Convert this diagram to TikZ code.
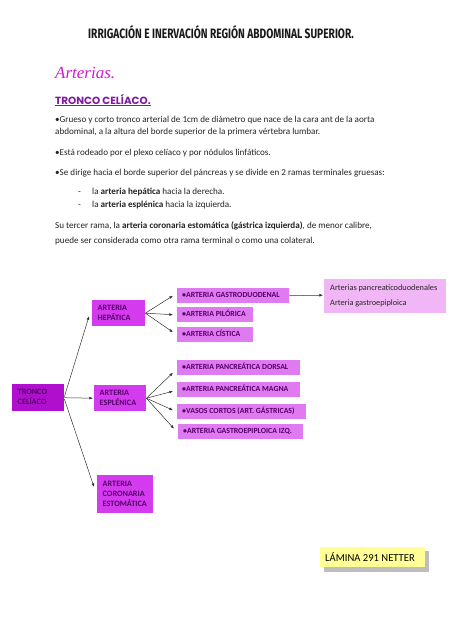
\documentclass[tikz,border=0pt]{standalone}
\usepackage{fontspec}
\setmainfont{Carlito}
\newfontfamily\titlefont[FakeStretch=0.75]{Fira Sans}
\newfontfamily\artfont{Liberation Serif}
\newfontfamily\headfont{Poppins}
\usetikzlibrary{arrows.meta,calc}
\definecolor{tronco}{RGB}{176,16,206}
\definecolor{rama}{RGB}{212,58,238}
\definecolor{sub}{RGB}{224,122,240}
\definecolor{far}{RGB}{240,182,246}
\definecolor{boxtext}{RGB}{85,0,105}
\definecolor{headcol}{RGB}{128,24,160}
\definecolor{artcol}{RGB}{205,30,205}
\definecolor{note}{RGB}{255,255,150}
\definecolor{shadow}{RGB}{190,190,190}
\definecolor{bodytext}{RGB}{35,35,35}
\newcommand{\lft}[2]{\makebox[#1][l]{#2}}
\newcommand{\stk}[1]{\begin{tabular}{@{}l@{}}#1\end{tabular}}
\begin{document}
\begin{tikzpicture}[x=1pt,y=-1pt,
  body/.style={anchor=base west,inner sep=0pt,font=\fontsize{9.1}{10}\selectfont,text=bodytext},
  bigbox/.style={anchor=north west,inner xsep=5.5pt,inner ysep=2pt,text=boxtext,
    font=\bfseries\fontsize{8.2}{10}\selectfont},
  subbox/.style={anchor=north west,fill=sub,inner xsep=5pt,inner ysep=0pt,text=boxtext,
    minimum height=15pt,text height=5.5pt,text depth=1.5pt,font=\bfseries\fontsize{7.8}{8}\selectfont},
  conn/.style={draw=black!80,line width=0.5pt,-{Latex[length=3.6pt,width=2.8pt]}}]
\fill[white] (0,0) rectangle (453,640);
\useasboundingbox (0,0) rectangle (453,640);

% headings
\node[anchor=base,inner sep=0pt,text=black!90,font=\titlefont\bfseries\fontsize{13.6}{14}\selectfont] (title) at (221,38)
  {IRRIGACIÓN E INERVACIÓN REGIÓN ABDOMINAL SUPERIOR.};
\node[anchor=base west,inner sep=0pt,text=artcol,font=\artfont\itshape\fontsize{17}{20}\selectfont] (arts) at (55,78) {Arterias.};
\node[anchor=base west,inner sep=0pt,text=headcol,font=\headfont\bfseries\fontsize{10.4}{11}\selectfont] (tc) at (55,104) {TRONCO CELÍACO.};
\draw[headcol,line width=0.8pt] ($(tc.south west)+(0,1.5)$) -- ($(tc.south east)+(0,1.5)$);

% body text
\node[body] (l1) at (55,122) {•Grueso y corto tronco arterial de 1cm de diámetro que nace de la cara ant de la aorta};
\node[body] (l2) at (55,134) {abdominal, a la altura del borde superior de la primera vértebra lumbar.};
\node[body] (l3) at (55,155) {•Está rodeado por el plexo celíaco y por nódulos linfáticos.};
\node[body] (l4) at (55,175) {•Se dirige hacia el borde superior del páncreas y se divide en 2 ramas terminales gruesas:};
\node[body] (d1) at (78,194) {-};
\node[body] (l5) at (92,194) {la \textbf{arteria hepática} hacia la derecha.};
\node[body] (d2) at (78,207) {-};
\node[body] (l6) at (92,207) {la \textbf{arteria esplénica} hacia la izquierda.};
\node[body] (l7) at (55,228) {Su tercer rama, la \textbf{arteria coronaria estomática (gástrica izquierda)}, de menor calibre,};
\node[body] (l8) at (55,243) {puede ser considerada como otra rama terminal o como una colateral.};

% diagram boxes
\node[bigbox,fill=tronco,minimum height=27pt] (tronco) at (12,384) {\lft{41pt}{\stk{TRONCO\\CELÍACO}}};
\node[bigbox,fill=rama,minimum height=26pt] (hep) at (92,300) {\lft{42pt}{\stk{ARTERIA\\HEPÁTICA}}};
\node[bigbox,fill=rama,minimum height=26pt] (esp) at (94,385) {\lft{41pt}{\stk{ARTERIA\\ESPLÉNICA}}};
\node[bigbox,fill=rama,minimum height=38pt] (cor) at (97,475) {\lft{45pt}{\stk{ARTERIA\\CORONARIA\\ESTOMÁTICA}}};

\node[subbox] (gd) at (177,288) {\lft{102pt}{•ARTERIA GASTRODUODENAL}};
\node[subbox] (pil) at (177,307) {\lft{66pt}{•ARTERIA PILÓRICA}};
\node[subbox] (cis) at (177,326.5) {\lft{66pt}{•ARTERIA CÍSTICA}};
\node[subbox] (pd) at (177,360) {\lft{113pt}{•ARTERIA PANCREÁTICA DORSAL}};
\node[subbox] (pm) at (177,381.5) {\lft{113pt}{•ARTERIA PANCREÁTICA MAGNA}};
\node[subbox] (vc) at (177,403.5) {\lft{119pt}{•VASOS CORTOS (ART. GÁSTRICAS)}};
\node[subbox] (ge) at (178,424) {\lft{115pt}{•ARTERIA GASTROEPIPLOICA IZQ.}};

\node[anchor=north west,fill=far,minimum height=34pt,inner xsep=6pt,
  text=black!85,font=\fontsize{8.3}{10}\selectfont] (ramas) at (324,279)
  {\lft{110pt}{\stk{Arterias pancreaticoduodenales\\[5pt]Arteria gastroepiploica}}};

% connectors
\coordinate (tr0) at ($(tronco.east)+(0,-1)$);
\coordinate (hepin) at ($(hep.west)+(-3,3)$);
\coordinate (corin) at ($(cor.north west)+(-3,12)$);
\draw[conn] (tr0) -- (hepin);
\draw[conn] (tronco.east) -- ($(esp.west)+(-1,0)$);
\draw[conn] ($(tronco.east)+(0,1.5)$) -- (corin);

\draw[conn] (hep.east) -- ($(gd.west)+(-4,0)$);
\draw[conn] (hep.east) -- ($(pil.west)+(-4,0)$);
\draw[conn] (hep.east) -- ($(cis.west)+(-4,-2)$);

\draw[conn] (esp.east) -- ($(pd.west)+(-4,5)$);
\draw[conn] (esp.east) -- ($(pm.west)+(-4,2)$);
\draw[conn] (esp.east) -- ($(vc.west)+(-4,-1)$);
\draw[conn] (esp.east) -- ($(ge.west)+(-4,-3)$);

\draw[conn] (gd.east) -- ($(ramas.west)+(-1,-1)$);

% note
\fill[shadow] (324,551) rectangle (429,572);
\node[anchor=north west,fill=note,minimum height=20pt,inner xsep=5pt,
  font=\fontsize{10.6}{12}\selectfont,text=black] (lam) at (320,547) {\lft{95pt}{LÁMINA 291 NETTER}};
\end{tikzpicture}
\end{document}
